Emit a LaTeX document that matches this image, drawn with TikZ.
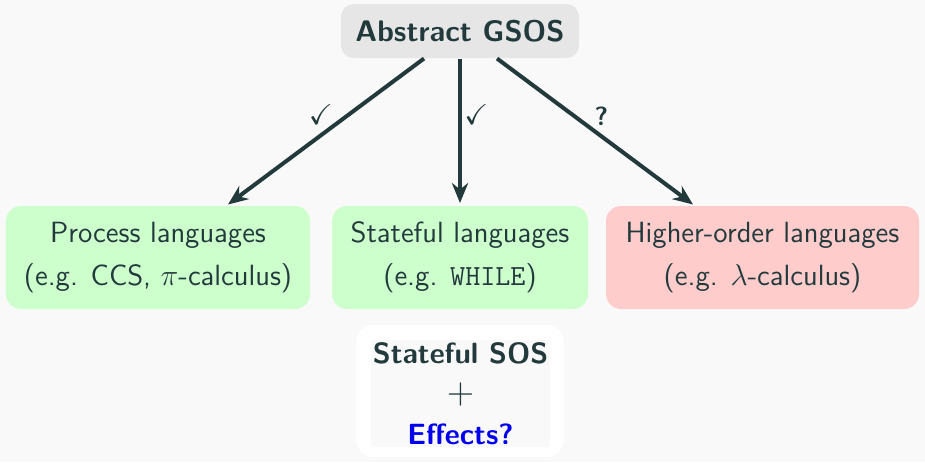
\documentclass[tikz,border=0pt]{standalone}
\usepackage{amssymb}
\usetikzlibrary{arrows.meta}
\definecolor{ink}{HTML}{233A3D}
\definecolor{pagebg}{HTML}{F9F9F9}
\definecolor{topfill}{HTML}{E6E6E6}
\definecolor{okfill}{HTML}{CCFFCC}
\definecolor{nofill}{HTML}{FFCCCC}
\definecolor{effblue}{HTML}{0000EE}
\tikzset{
  box/.style={rectangle, rounded corners=6pt, inner sep=0pt, align=center,
    text=ink, font=\sffamily\fontsize{11.7}{17.2}\selectfont},
  topbox/.style={box, fill=topfill, rounded corners=5pt,
    font=\sffamily\bfseries\fontsize{11.9}{14}\selectfont},
  okbox/.style={box, fill=okfill},
  nobox/.style={box, fill=nofill},
  link/.style={draw=ink, line width=1.6pt, -{Stealth[length=8pt,width=6.5pt]}},
  tick/.style={text=ink, font=\sffamily\fontsize{11.5}{13}\selectfont, inner sep=1pt}
}
\begin{document}
\begin{tikzpicture}[x=0.4pt,y=-0.4pt]
  \fill[pagebg] (0,0) rectangle (925,462);
  \useasboundingbox (0,0) rectangle (925,462);

  % root of the hierarchy
  \node[topbox, minimum width=95.2pt, minimum height=21.6pt] (gsos) at (460,31) {Abstract GSOS};

  % language families
  \node[okbox, minimum width=121.6pt, minimum height=41.2pt] (proc) at (158,257.5)
    {Process languages\\(e.g. CCS, $\pi$-calculus)};
  \node[okbox, minimum width=102.4pt, minimum height=41.2pt] (state) at (460,257.5)
    {Stateful languages\\(e.g. \texttt{WHILE})};
  \node[nobox, minimum width=125.2pt, minimum height=41.2pt] (hol) at (762.5,257.5)
    {Higher-order languages\\(e.g. $\lambda$-calculus)};

  % open question below
  \node[rectangle, fill=white, rounded corners=7pt, minimum width=83.2pt, minimum height=52.8pt] (frame) at (460,391) {};
  \node[box, fill=pagebg, rounded corners=1pt, minimum width=71.6pt, minimum height=42.8pt] (effects) at (460.5,393.5)
    {\bfseries Stateful SOS\\[-1pt]{\mdseries\fontsize{15}{17.2}\selectfont$+$}\\[-1pt]{\color{effblue}\bfseries Effects?}};

  % connectors
  \draw[link] ([xshift=-14.4pt]gsos.south) -- ([xshift=28pt,yshift=0.4pt]proc.north)
    node[tick, pos=0.36, xshift=-13pt, yshift=-1.5pt] (m1) {$\checkmark$};
  \draw[link] (gsos.south) -- ([yshift=1pt]state.north)
    node[tick, pos=0.36, xshift=6.5pt, yshift=-1.5pt] (m2) {$\checkmark$};
  \draw[link] ([xshift=14.8pt]gsos.south) -- ([xshift=-27.8pt,yshift=0.4pt]hol.north)
    node[tick, pos=0.36, xshift=13.5pt, yshift=-2pt, font=\sffamily\bfseries\fontsize{10.5}{12}\selectfont] (m3) {?};
\end{tikzpicture}
\end{document}
